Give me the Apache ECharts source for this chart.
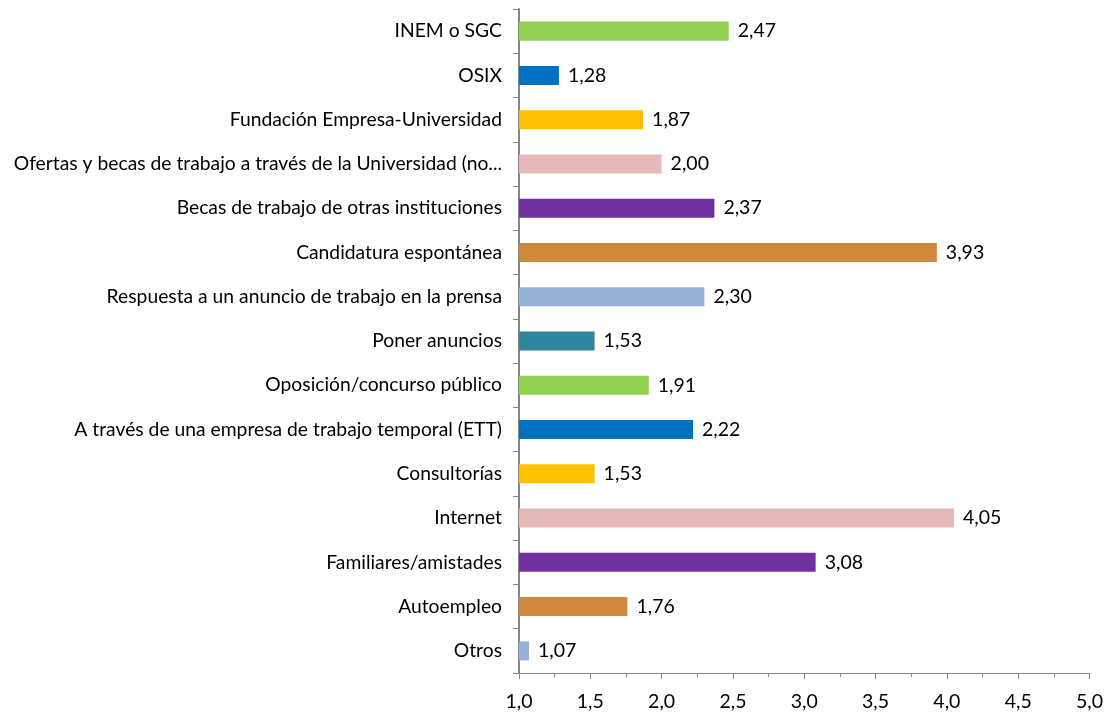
<!DOCTYPE html>
<html>
<head>
<meta charset="utf-8">
<script src="https://cdn.jsdelivr.net/npm/echarts@6/dist/echarts.min.js"></script>
<style>
  html, body { margin: 0; padding: 0; background: #fff; }
  #chart { width: 1106px; height: 714px; }
</style>
</head>
<body>
<div id="chart"></div>
<script>
// categories from top to bottom, as in the picture
const categories = [
  'INEM o SGC',
  'OSIX',
  'Fundación Empresa-Universidad',
  'Ofertas y becas de trabajo a través de la Universidad (no...',
  'Becas de trabajo de otras instituciones',
  'Candidatura espontánea',
  'Respuesta a un anuncio de trabajo en la prensa',
  'Poner anuncios',
  'Oposición/concurso público',
  'A través de una empresa de trabajo temporal (ETT)',
  'Consultorías',
  'Internet',
  'Familiares/amistades',
  'Autoempleo',
  'Otros'
]
const values = [2.47, 1.28, 1.87, 2.00, 2.37, 3.93, 2.30, 1.53, 1.91, 2.22, 1.53, 4.05, 3.08, 1.76, 1.07]
const palette = ['#92D050', '#0070C0', '#FFC000', '#E6B9B8', '#7030A0', '#D0893C', '#95B3D7', '#31859C']

const fontFamily = 'Lato, "Open Sans", sans-serif'
const myChart = echarts.init(document.getElementById('chart'))

myChart.setOption({
  animation: false,
  grid: { left: 519, right: 15, top: 9, bottom: 41, containLabel: false },
  xAxis: {
    type: 'value',
    min: 1,
    max: 5,
    interval: 0.5,
    axisLine: { show: true, lineStyle: { color: '#868686', width: 1 } },
    axisTick: { show: true, length: 6, lineStyle: { color: '#868686' } },
    minorTick: { show: true, splitNumber: 2, length: 4, lineStyle: { color: '#868686' } },
    splitLine: { show: false },
    axisLabel: {
      color: '#000',
      fontSize: 19.5,
      fontFamily: fontFamily,
      margin: 19,
      formatter: v => v.toFixed(1).replace('.', ',')
    }
  },
  yAxis: {
    type: 'category',
    inverse: true,
    data: categories,
    axisLine: { show: true, lineStyle: { color: '#868686', width: 2 } },
    axisTick: { show: true, length: 6, lineStyle: { color: '#868686' } },
    axisLabel: {
      color: '#000',
      fontSize: 19.3,
      fontFamily: fontFamily,
      margin: 17
    }
  },
  series: [
    {
      type: 'bar',
      data: values.map((v, i) => ({ value: v, itemStyle: { color: palette[i % palette.length] } })),
      barCategoryGap: '57%',
      label: {
        show: true,
        position: 'right',
        distance: 9,
        color: '#000',
        fontSize: 19.5,
        fontFamily: fontFamily,
        formatter: p => p.value.toFixed(2).replace('.', ',')
      }
    }
  ]
})
</script>
</body>
</html>
